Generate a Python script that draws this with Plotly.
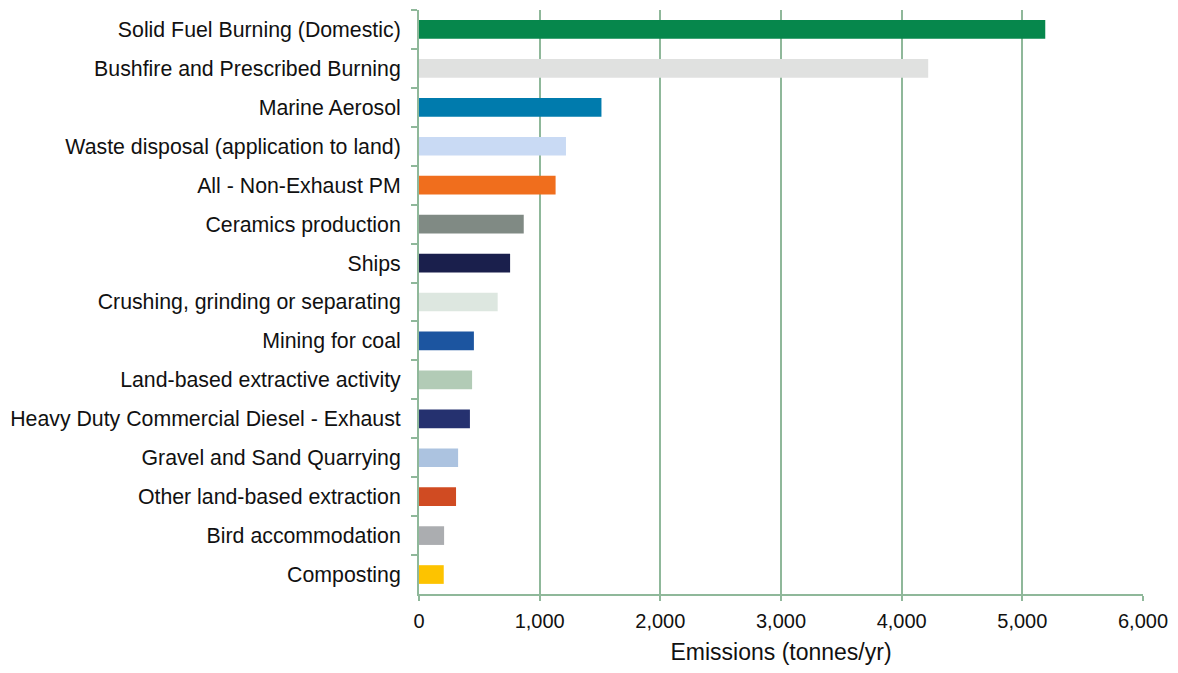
import plotly.graph_objects as go

categories = [
    "Solid Fuel Burning (Domestic)",
    "Bushfire and Prescribed Burning",
    "Marine Aerosol",
    "Waste disposal (application to land)",
    "All - Non-Exhaust PM",
    "Ceramics production",
    "Ships",
    "Crushing, grinding or separating",
    "Mining for coal",
    "Land-based extractive activity",
    "Heavy Duty Commercial Diesel - Exhaust",
    "Gravel and Sand Quarrying",
    "Other land-based extraction",
    "Bird accommodation",
    "Composting",
]
values = [5190, 4220, 1512, 1218, 1132, 868, 755, 652, 455, 440, 422, 324, 307, 208, 205]
colors = [
    "#06874c", "#e0e1e0", "#007bad", "#c9daf4", "#f06e1d",
    "#808a84", "#1a1f4c", "#dde7e0", "#1c55a0", "#b2cbb6",
    "#25316f", "#acc3e0", "#d04b22", "#abadb0", "#fdc300",
]
x_ticks = [0, 1000, 2000, 3000, 4000, 5000, 6000]
x_ticktext = ["0", "1,000", "2,000", "3,000", "4,000", "5,000", "6,000"]

grid = "#8fb89a"

fig = go.Figure(go.Bar(
    y=categories,
    x=values,
    orientation="h",
    marker=dict(color=colors, line=dict(width=0)),
    width=0.48,
))

fig.update_layout(
    width=1162, height=657,
    margin=dict(l=411, r=26, t=2, b=69),
    paper_bgcolor="white", plot_bgcolor="white",
    font=dict(family="Liberation Sans, Arial, sans-serif", size=21.3, color="#111111"),
    showlegend=False,
)
fig.update_xaxes(
    range=[0, 6000],
    tickvals=x_ticks, ticktext=x_ticktext,
    tickfont=dict(size=20),
    showgrid=True, gridcolor=grid, gridwidth=2,
    showline=True, linecolor=grid, linewidth=2,
    ticks="outside", tickcolor=grid, ticklen=5, tickwidth=2,
    ticklabelstandoff=3,
    zeroline=False,
    title=dict(text="Emissions (tonnes/yr)", font=dict(size=23), standoff=15),
)
fig.update_yaxes(
    categoryorder="array", categoryarray=categories,
    autorange="reversed",
    showgrid=False,
    showline=True, linecolor=grid, linewidth=2,
    ticks="outside", tickson="boundaries", tickcolor=grid, ticklen=6, tickwidth=2,
    ticklabelstandoff=12,
)

fig.write_html("out.html")
